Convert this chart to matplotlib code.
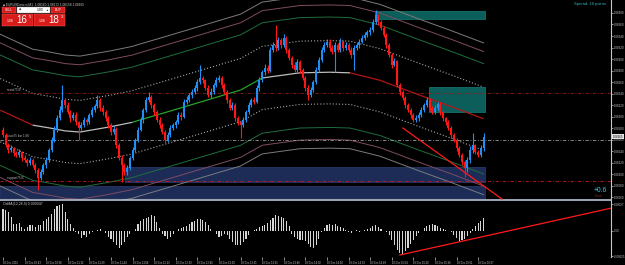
import numpy as np
import matplotlib
matplotlib.use("Agg")
import matplotlib.pyplot as plt
from matplotlib.collections import LineCollection
from matplotlib.patches import Rectangle
from matplotlib.transforms import blended_transform_factory

plt.rcParams['font.family'] = ['Liberation Sans', 'DejaVu Sans']

# prices are stored in points above BASE (1 point = 0.00001)
BASE = 1.08
PT = 0.00001

opens = [177, 168, 150, 142, 145, 136, 133, 138, 128, 124,
         119, 124, 116, 107, 93, 103, 116, 124, 142, 159,
         177, 197, 211, 229, 220, 208, 197, 203, 190, 180,
         185, 194, 190, 203, 211, 218, 229, 215, 208, 197,
         185, 173, 178, 150, 128, 116, 103, 110, 128, 142,
         159, 177, 194, 211, 229, 234, 220, 208, 194, 185,
         173, 159, 168, 180, 185, 190, 203, 200, 225, 229,
         237, 243, 250, 260, 267, 263, 250, 237, 243, 255,
         263, 267, 255, 243, 229, 215, 220, 197, 190, 185,
         194, 208, 220, 229, 226, 250, 263, 277, 285, 280,
         316, 324, 319, 333, 324, 337, 316, 302, 290, 281,
         295, 281, 267, 250, 237, 246, 260, 281, 298, 316,
         324, 330, 319, 312, 324, 316, 330, 319, 324, 316,
         307, 319, 324, 330, 337, 342, 347, 350, 364, 376,
         364, 354, 342, 324, 307, 290, 296, 255, 243, 232,
         220, 211, 203, 194, 197, 203, 211, 220, 229, 215,
         208, 215, 222, 208, 197, 190, 180, 168, 159, 145,
         133, 121, 110, 124, 142, 150, 138, 133, 145]
highs = [181, 171, 154, 150, 147, 140, 143, 140, 133, 127,
         130, 127, 120, 110, 108, 120, 130, 146, 164, 183,
         202, 218, 255, 233, 226, 211, 208, 207, 193, 191,
         199, 198, 206, 217, 222, 237, 232, 220, 211, 201,
         188, 184, 181, 154, 133, 119, 116, 132, 147, 163,
         182, 200, 215, 234, 243, 237, 224, 211, 199, 188,
         177, 173, 186, 188, 194, 208, 207, 230, 235, 241,
         248, 254, 265, 290, 271, 266, 255, 249, 259, 269,
         272, 270, 259, 246, 233, 225, 223, 201, 193, 199,
         212, 225, 232, 234, 254, 268, 281, 291, 289, 321,
         330, 359, 338, 337, 343, 340, 320, 305, 294, 300,
         298, 285, 270, 254, 251, 264, 286, 304, 321, 330,
         335, 334, 325, 329, 328, 336, 333, 330, 328, 321,
         325, 328, 335, 341, 347, 351, 356, 369, 385, 379,
         368, 357, 346, 327, 311, 301, 299, 259, 246, 236,
         223, 215, 206, 202, 207, 216, 224, 234, 232, 219,
         220, 226, 225, 212, 200, 194, 183, 172, 162, 149,
         136, 125, 129, 148, 171, 153, 142, 150, 171]
lows = [164, 147, 137, 139, 132, 130, 129, 123, 121, 114,
        116, 112, 102, 72, 89, 100, 111, 121, 138, 156,
        173, 194, 207, 215, 204, 191, 194, 185, 159, 177,
        181, 185, 187, 199, 208, 214, 210, 202, 193, 180,
        167, 169, 145, 124, 86, 98, 99, 107, 124, 139,
        155, 174, 189, 208, 225, 215, 202, 190, 180, 169,
        154, 156, 164, 177, 180, 187, 194, 197, 221, 226,
        233, 240, 245, 256, 258, 246, 234, 233, 240, 251,
        260, 250, 239, 224, 211, 212, 192, 186, 163, 181,
        191, 204, 217, 222, 223, 245, 260, 273, 275, 277,
        312, 314, 316, 320, 321, 311, 298, 285, 277, 278,
        276, 263, 245, 229, 234, 242, 257, 277, 295, 312,
        321, 314, 308, 277, 312, 313, 314, 316, 312, 302,
        281, 316, 320, 327, 333, 339, 342, 347, 360, 359,
        350, 339, 319, 303, 285, 287, 251, 238, 228, 215,
        207, 198, 190, 191, 193, 200, 207, 217, 210, 204,
        205, 211, 203, 193, 185, 176, 163, 155, 140, 129,
        116, 95, 104, 120, 137, 134, 129, 130, 140]
closes = [168, 150, 142, 145, 136, 133, 138, 128, 124, 119,
          124, 116, 107, 93, 103, 116, 124, 142, 159, 177,
          197, 211, 229, 220, 208, 197, 203, 190, 180, 185,
          194, 190, 203, 211, 218, 229, 215, 208, 197, 185,
          173, 178, 150, 128, 116, 103, 110, 128, 142, 159,
          177, 194, 211, 229, 234, 220, 208, 194, 185, 173,
          159, 168, 180, 185, 190, 203, 200, 225, 229, 237,
          243, 250, 260, 267, 263, 250, 237, 243, 255, 263,
          267, 255, 243, 229, 215, 220, 197, 190, 185, 194,
          208, 220, 229, 226, 250, 263, 277, 285, 280, 316,
          324, 319, 333, 324, 337, 316, 302, 290, 281, 295,
          281, 267, 250, 237, 246, 260, 281, 298, 316, 324,
          330, 319, 312, 324, 316, 330, 319, 324, 316, 307,
          319, 324, 330, 337, 342, 347, 350, 364, 376, 364,
          354, 342, 324, 307, 290, 296, 255, 243, 232, 220,
          211, 203, 194, 197, 203, 211, 220, 229, 215, 208,
          215, 222, 208, 197, 190, 180, 168, 159, 145, 133,
          121, 110, 124, 142, 150, 138, 133, 145, 165]

# OsMA histogram, units of 0.00001
osma = [22, 21, 19, 14, 7, 7, 8, 4, 2, 4,
        6, 6, 4, 6, 6, 10, 12, 14, 17, 22,
        25, 26, 27, 19, 12, 7, 3, -1, -3, -7,
        -4, -6, -3, -1, 0, 1, 2, 0, -2, -6,
        -8, -11, -14, -17, -14, -11, -6, -3, 0, 2,
        7, 10, 12, 13, 14, 16, 15, 9, 3, -3,
        -5, -8, -6, -3, 0, 2, 3, 4, 5, 7,
        9, 10, 12, 12, 11, 9, 6, 2, 0, -3,
        -6, -5, -3, -4, -8, -11, -14, -14, -14, -11,
        -8, -4, 0, 1, 2, 4, 5, 6, 8, 11,
        13, 16, 15, 14, 13, 10, 5, -3, -6, -8,
        -9, -9, -10, -13, -16, -17, -14, -8, -1, 3,
        6, 7, 6, 7, 5, 4, 3, 1, -1, -2,
        0, 1, -1, 0, 1, 2, 3, 5, 6, 4,
        2, 0, -1, -4, -9, -14, -19, -22, -23, -20,
        -17, -13, -9, -5, -2, 0, 3, 5, 6, 7,
        6, 5, 3, 2, 1, 0, -1, -4, -7, -10,
        -9, -8, -5, -2, 2, 5, 8, 10, 13]

# channel mid line (bar index, points) and band half widths (points)
center_bar = [-1, 11, 17.4, 23, 28.5, 39.6, 48, 50.7, 58, 73, 88, 96, 110, 121, 128.5, 139.6, 154.4, 165.6, 178]
center_pts = [211, 185, 180, 175, 173, 182, 190, 194, 204, 225, 246, 267, 276, 277, 276, 263, 237, 218, 196]
band_pts = [55, 96, 117, 132]

level_pts = [241, 160, 88]
level_names = ["resist75 B", "pivot75 bar 1.08", "support75 B"]

zone_kind = ["supply", "supply", "demand", "demand"]
zone_start = [137.8, 157.8, 45.2, -1.2]
zone_end = [178.4, 178.4, 178.4, 178.4]
zone_top = [384, 251, 112, 79]
zone_bottom = [370, 208, 86, 58]

trend_bar = [148.1, 184.8]
trend_pts = [180, 56.5]
osma_trend_bar = [147, 225.5]
osma_trend_val = [-24, 23]

time_labels = ["18 Dec 2015", "18 Dec 10:43", "18 Dec 10:58", "18 Dec 11:13", "18 Dec 11:29",
               "18 Dec 11:44", "18 Dec 11:58", "18 Dec 12:13", "18 Dec 12:29", "18 Dec 12:45",
               "18 Dec 13:00", "18 Dec 13:15", "18 Dec 13:31", "18 Dec 13:46", "18 Dec 14:02",
               "18 Dec 14:18", "18 Dec 14:33", "18 Dec 14:49", "18 Dec 15:04", "18 Dec 15:20",
               "18 Dec 15:36", "18 Dec 15:51", "18 Dec 16:07"]
bid_pts = 165

W, H = 625, 265
fig = plt.figure(figsize=(W / 100, H / 100), dpi=100, facecolor='black')


def px_box(l, t, r, b):
    return [l / W, 1 - b / H, (r - l) / W, (b - t) / H]


def ptext(x, y, s, **kw):
    fig.text(x / W, 1 - y / H, s, **kw)


def prect(x, y, w, h, **kw):
    fig.patches.append(Rectangle((x / W, 1 - (y + h) / H), w / W, h / H,
                                 transform=fig.transFigure, figure=fig, **kw))


GRAY = '#c8c8c8'
XLIM = (-1.11, 225.19)

# ---------------- main price panel
ax = fig.add_axes(px_box(0, 0, 611, 199.5))
ax.set_facecolor('black')
ax.set_xlim(*XLIM)
ax.set_ylim(BASE + 55.7 * PT, BASE + 402.6 * PT)

for k, s, e, t, b in zip(zone_kind, zone_start, zone_end, zone_top, zone_bottom):
    fc, ec = ('#0c5e5a', '#1a7d78') if k == "supply" else ('#1c2c57', '#2c3f72')
    ax.add_patch(Rectangle((s, BASE + b * PT), e - s, (t - b) * PT, fc=fc, ec=ec, lw=0.5, zorder=1))

cx = np.array(center_bar)
cy = BASE + np.array(center_pts) * PT
band_styles = [('#a8a8a8', (0, (1, 1.8)), 0.8), ('#1f6e3e', '-', 0.7),
               ('#7e4c62', '-', 0.7), ('#7c7c7c', '-', 0.7)]
for w, (col, ls, lw) in zip(band_pts, band_styles):
    ax.plot(cx, cy + w * PT, color=col, ls=ls, lw=lw, zorder=2)
    ax.plot(cx, cy - w * PT, color=col, ls=ls, lw=lw, zorder=2)

slopes = np.diff(center_pts) / np.diff(center_bar)
seg_cols = ['#b21515' if s < -1 else '#27a327' if s > 1 else '#bdbdbd' for s in slopes]
segs = [[(cx[j], cy[j]), (cx[j + 1], cy[j + 1])] for j in range(len(cx) - 1)]
ax.add_collection(LineCollection(segs, colors=seg_cols, lw=0.9, zorder=2))

lvl_styles = [('#8e1b1b', (0, (4, 2, 1, 2))), ('#9a9a9a', (0, (4, 2, 1, 2))), ('#c8182c', (0, (4, 2, 1, 2)))]
for p, name, (col, ls) in zip(level_pts, level_names, lvl_styles):
    ax.axhline(BASE + p * PT, color=col, ls=ls, lw=0.6, zorder=2)
    ax.text(1.5, BASE + p * PT + 2 * PT, name, fontsize=2.2, color='#bdbdbd', va='bottom', zorder=5)

o = BASE + np.array(opens) * PT
c = BASE + np.array(closes) * PT
hi = BASE + np.array(highs) * PT
lo = BASE + np.array(lows) * PT
x = np.arange(len(closes))
cols = np.where(c >= o, '#1f8ff5', '#ff1717')
ax.vlines(x, lo, hi, colors=cols, lw=0.8, zorder=3)
ax.bar(x, np.maximum(np.abs(c - o), 0.8 * PT), bottom=np.minimum(o, c), width=0.74,
       color=cols, lw=0, zorder=3)

ax.plot(trend_bar, BASE + np.array(trend_pts) * PT, color='#ff1a1a', lw=0.9, zorder=4)

ax.yaxis.tick_right()
yt = BASE + np.arange(60, 381, 20) * PT
ax.set_yticks(yt)
ax.set_yticklabels([f"{v:.5f}" for v in yt], fontsize=2.1, color=GRAY)
ax.tick_params(axis='y', length=1.5, width=0.5, color=GRAY, pad=0.6)
ax.set_xticks([])
for sp in ['left', 'top']:
    ax.spines[sp].set_visible(False)
ax.spines['right'].set_color(GRAY)
ax.spines['right'].set_linewidth(0.8)
ax.spines['bottom'].set_color('#b9c2d4')
ax.spines['bottom'].set_linewidth(1.2)

tr = blended_transform_factory(ax.transAxes, ax.transData)
ax.text(1.003, BASE + bid_pts * PT, f"{BASE + bid_pts * PT:.5f}", transform=tr, fontsize=2.1,
        color='black', va='center', ha='left', clip_on=False,
        bbox=dict(boxstyle='square,pad=0.15', fc='#e4e4e4', ec='none'))

# ---------------- OsMA panel
ax2 = fig.add_axes(px_box(0, 200.5, 611, 257))
ax2.set_facecolor('black')
ax2.set_xlim(*XLIM)
ax2.set_ylim(-26e-5, 30.5e-5)
ax2.bar(x, np.array(osma) * 1e-5, width=0.4, color='#d6d6d6', lw=0)
ax2.plot(osma_trend_bar, np.array(osma_trend_val) * 1e-5, color='#ff1a1a', lw=0.9)
ax2.yaxis.tick_right()
ax2.set_yticks([27e-5, 0, -25e-5])
ax2.set_yticklabels(["0.00027", "0.00", "-0.00025"], fontsize=2.1, color=GRAY)
ax2.tick_params(axis='y', length=1.5, width=0.5, color=GRAY, pad=0.6)
ax2.set_xticks(np.arange(0, 177, 8))
ax2.set_xticklabels(time_labels, fontsize=1.9, color=GRAY, ha='left')
ax2.tick_params(axis='x', length=2, width=0.5, color=GRAY, pad=0.8)
for sp in ['left', 'top', 'bottom']:
    ax2.spines[sp].set_visible(False)
ax2.spines['right'].set_color(GRAY)
ax2.spines['right'].set_linewidth(0.8)

# ---------------- overlay texts / one-click panel
ptext(3, 4.5, "\u25a0 EURUSDmicro,M1  1.08160 1.08172 1.08158 1.08165", fontsize=2.3, color=GRAY, va='center')
ptext(3, 204, "OsMA(12,26,9) 0.000047", fontsize=2.5, color=GRAY, va='center')
ptext(606, 4.5, "Spread: 18 points", fontsize=3.0, color='#2cb3b0', va='center', ha='right')
ptext(607, 190, "+0.6", fontsize=4.8, color='#3fcfe0', va='center', ha='right')
ptext(603, 196, "Trend", fontsize=2.2, color='#8e1b1b', va='center', ha='right')

RED = '#d81c1c'
prect(2, 7, 14, 6, fc=RED, ec='#ff6060', lw=0.3)
prect(17, 7, 33, 6, fc='white', ec='#999999', lw=0.3)
prect(51, 7, 14, 6, fc=RED, ec='#ff6060', lw=0.3)
prect(2, 14, 31, 12, fc=RED, ec='#ff6060', lw=0.3)
prect(34, 14, 31, 12, fc=RED, ec='#ff6060', lw=0.3)
ptext(9, 10, "SELL", fontsize=2.4, color='white', ha='center', va='center')
ptext(58, 10, "BUY", fontsize=2.4, color='white', ha='center', va='center')
ptext(20, 10, "\u25c6", fontsize=2.2, color='#333333', ha='center', va='center')
ptext(40, 10, "1.00", fontsize=2.4, color='black', ha='center', va='center')
ptext(47, 10, "\u25b2", fontsize=2.0, color='#333333', ha='center', va='center')
for x0, big, sup in [(2, "16", "5"), (34, "18", "3")]:
    ptext(x0 + 5, 21.5, "1.08", fontsize=2.4, color='white', va='center')
    ptext(x0 + 14.5, 20, big, fontsize=7, color='white', va='center')
    ptext(x0 + 26.5, 16.5, sup, fontsize=3.2, color='white', va='center')

fig.savefig("out.png", dpi=100, facecolor='black')
